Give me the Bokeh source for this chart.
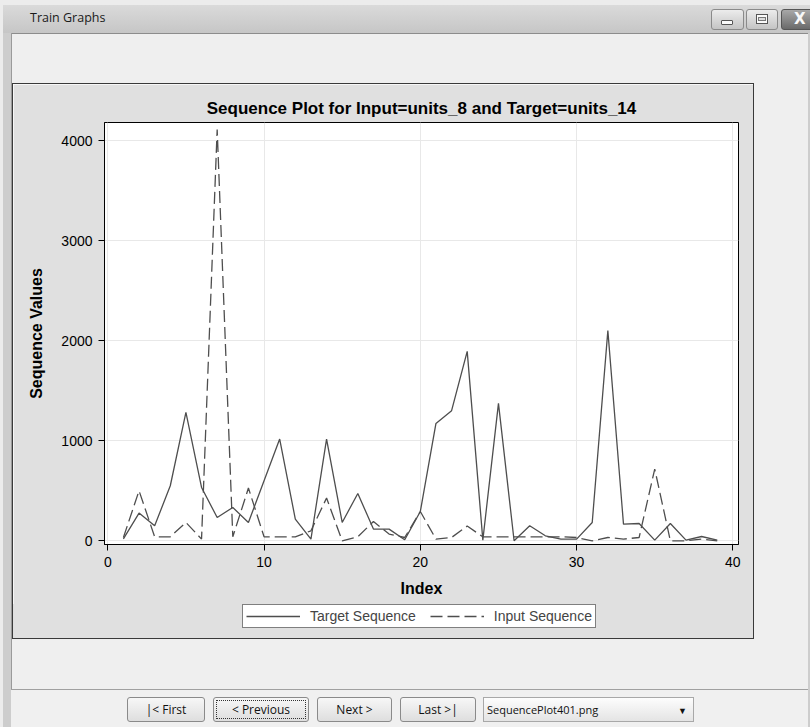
from bokeh.plotting import figure
from bokeh.models import Range1d, FixedTicker, Legend, LegendItem, Div
from bokeh.layouts import column, row
from bokeh.embed import file_html
from bokeh.resources import INLINE

# ---- data ----
index = list(range(1, 40))
target_seq = [20, 277, 150, 550, 1283, 533, 233, 333, 183, 600,
              1017, 217, 17, 1017, 183, 473, 117, 117, 10, 293,
              1173, 1300, 1893, 7, 1373, 0, 150, 50, 17, 17,
              183, 2100, 167, 173, 7, 173, 7, 43, 7]
input_seq = [33, 500, 40, 40, 183, 17, 4110, 40, 527, 40,
             40, 40, 100, 427, 0, 40, 193, 67, 33, 293,
             17, 33, 147, 40, 40, 40, 40, 40, 40, 33,
             0, 33, 17, 33, 717, 0, 0, 17, 0]
x_ticks = [0, 10, 20, 30, 40]
y_ticks = [0, 1000, 2000, 3000, 4000]
chart_title = "Sequence Plot for Input=units_8 and Target=units_14"
series_names = ["Target Sequence", "Input Sequence"]
window_title = "Train Graphs"
button_labels = ["|< First", "< Previous", "Next >", "Last >|"]
dropdown_label = "SequencePlot401.png"

FONT = "Liberation Sans"
PANEL = "#e0e0e0"
WIN_BG = "#efefef"
LINE_COL = "#4e4e4e"
DASH = "12 5"

# ---- main chart ----
p = figure(width=740, height=520,
           x_range=Range1d(-0.21, 40.36), y_range=Range1d(-37, 4180),
           output_backend="svg", toolbar_location=None,
           min_border_left=91, min_border_right=15,
           min_border_top=38, min_border_bottom=60,
           border_fill_color=PANEL, background_fill_color="white",
           outline_line_color="black", outline_line_width=1)

p.title.text = chart_title
p.title.align = "center"
p.title.text_font = FONT
p.title.text_font_size = "17px"
p.title.text_font_style = "bold"
p.title.text_color = "black"

for ax in (p.xaxis[0], p.yaxis[0]):
    ax.major_label_text_font = FONT
    ax.major_label_text_font_size = "14px"
    ax.major_label_text_color = "black"
    ax.axis_label_text_font = FONT
    ax.axis_label_text_font_size = "16px"
    ax.axis_label_text_font_style = "bold"
    ax.axis_label_text_color = "black"
    ax.major_tick_out = 6
    ax.major_tick_in = 0
    ax.minor_tick_out = 0
    ax.minor_tick_in = 0
    ax.axis_line_color = "black"
    ax.major_tick_line_color = "black"

p.xaxis[0].ticker = FixedTicker(ticks=x_ticks)
p.yaxis[0].ticker = FixedTicker(ticks=y_ticks)
p.xaxis[0].axis_label = "Index"
p.yaxis[0].axis_label = "Sequence Values"
p.xaxis[0].major_label_standoff = 6
p.xaxis[0].axis_label_standoff = 10
p.yaxis[0].major_label_standoff = 6
p.yaxis[0].axis_label_standoff = 13

p.xgrid.ticker = FixedTicker(ticks=x_ticks)
p.ygrid.ticker = FixedTicker(ticks=y_ticks)
p.xgrid.grid_line_color = "#e8e8e8"
p.ygrid.grid_line_color = "#e8e8e8"

p.line(index, target_seq, line_color=LINE_COL, line_width=1.3)
p.line(index, input_seq, line_color=LINE_COL, line_width=1.3, line_dash=DASH)

# ---- legend strip (same series; its ranges keep the lines out of view) ----
pl = figure(width=740, height=34, x_range=Range1d(-20, -19), y_range=Range1d(-20, -19),
            output_backend="svg", toolbar_location=None,
            x_axis_type=None, y_axis_type=None,
            min_border_left=91, min_border_right=15,
            min_border_top=0, min_border_bottom=0,
            border_fill_color=None, background_fill_color=None,
            outline_line_color=None,
            styles={"background-color": PANEL})
pl.xgrid.visible = False
pl.ygrid.visible = False
lt = pl.line(index, target_seq, line_color=LINE_COL, line_width=1.3)
li = pl.line(index, input_seq, line_color=LINE_COL, line_width=1.3, line_dash=DASH)
legend = Legend(items=[LegendItem(label=series_names[0], renderers=[lt]),
                       LegendItem(label=series_names[1], renderers=[li])],
                orientation="horizontal", location=(138, 10),
                border_line_color="black", border_line_width=1,
                background_fill_color="white", background_fill_alpha=1,
                label_text_font=FONT, label_text_font_size="14px",
                glyph_width=54, glyph_height=14, label_height=14,
                label_standoff=10, spacing=14, padding=3, margin=0)
pl.add_layout(legend)

# ---- window chrome (HTML) ----
def box(l, t, w, h, style):
    return (f'<div style="position:absolute;left:{l}px;top:{t}px;width:{w}px;'
            f'height:{h}px;{style}"></div>')

UI_FONT = "font-family:'Open Sans',sans-serif;"
FRAME = "#cdcdcd"
OUTER = "#ececec"

# top strip: y 0..83
top = [f'<div style="position:relative;width:810px;height:84px;overflow:hidden;background:{WIN_BG};{UI_FONT}">']
top.append(box(0, 0, 810, 5, f"background:{OUTER};"))
top.append(box(0, 5, 810, 28, "background:linear-gradient(#dadada,#c6c6c6);"))
top.append(box(0, 5, 3, 79, f"background:{OUTER};"))
top.append(box(3, 33, 8, 51, f"background:{FRAME};"))
top.append(box(11, 33, 799, 1, "background:#8c8c8c;"))
top.append(box(11, 33, 1, 51, "background:#9a9a9a;"))
top.append(box(808, 33, 2, 51, f"background:{FRAME};"))
top.append(box(12, 83, 742, 1, "background:#3a3a3a;"))
top.append(f'<div style="position:absolute;left:30px;top:10px;font-size:12.5px;line-height:16px;color:#1a1a1a;">{window_title}</div>')
ctrl = "box-sizing:border-box;border:1px solid #8a8a8a;border-radius:3px;background:linear-gradient(#ececec,#c4c4c4);"
top.append(box(711, 9, 33, 21, ctrl))
top.append(box(721, 20, 12, 5, "box-sizing:border-box;border:1px solid #555;border-radius:1px;background:#fafafa;"))
top.append(box(746, 9, 32, 21, ctrl))
top.append(box(756, 14, 12, 10, "box-sizing:border-box;border:1px solid #555;background:#fafafa;"))
top.append(box(758, 17, 8, 4, "box-sizing:border-box;border:1px solid #777;background:#ddd;"))
top.append(box(781, 9, 36, 21, "box-sizing:border-box;border:1px solid #555;border-radius:3px;background:linear-gradient(#a8a8a8,#6a6a6a);"))
top.append(f'<div style="position:absolute;left:794px;top:9px;font-size:15px;font-weight:bold;line-height:21px;color:#f8f8f8;font-family:\'DejaVu Sans\',sans-serif;">X</div>')
top.append('</div>')

# left strip: x 0..12
left = ('<div style="position:relative;width:13px;height:554px;overflow:hidden;">'
        + box(0, 0, 3, 554, f"background:{OUTER};")
        + box(3, 0, 8, 554, f"background:{FRAME};")
        + box(11, 0, 1, 554, "background:#9a9a9a;")
        + box(12, 0, 1, 554, "background:#3a3a3a;") + '</div>')

# right strip: x 753..809
right = (f'<div style="position:relative;width:57px;height:554px;overflow:hidden;background:{WIN_BG};">'
         + box(0, 0, 1, 554, "background:#3a3a3a;")
         + box(55, 0, 2, 554, f"background:{FRAME};") + '</div>')

# bottom strip: y 638..726
bot = [f'<div style="position:relative;width:810px;height:89px;overflow:hidden;background:{WIN_BG};{UI_FONT}">']
bot.append(box(0, 0, 3, 89, f"background:{OUTER};"))
bot.append(box(3, 0, 8, 89, f"background:{FRAME};"))
bot.append(box(11, 0, 1, 51, "background:#9a9a9a;"))
bot.append(box(12, 0, 742, 1, "background:#3a3a3a;"))
bot.append(box(11, 51, 799, 1, "background:#a0a0a0;"))
bot.append(box(11, 52, 799, 37, "background:#f0f0f0;"))
bot.append(box(808, 0, 2, 89, f"background:{FRAME};"))
btn_pos = [(127, 78), (213, 96), (317, 75), (400, 76)]
btn_style = ("box-sizing:border-box;border:1px solid #8a8a8a;border-radius:3px;"
             "background:linear-gradient(#f7f7f7,#dedede);")
for (bx, bw), lab in zip(btn_pos, button_labels):
    lab_html = lab.replace("<", "&lt;").replace(">", "&gt;")
    bot.append(box(bx, 59, bw, 25, btn_style))
    bot.append(f'<div style="position:absolute;left:{bx}px;top:59px;width:{bw}px;height:25px;'
               f'text-align:center;font-size:12px;line-height:25px;color:#111;">{lab_html}</div>')
bot.append(box(216, 62, 90, 19, "box-sizing:border-box;border:1px dotted #333;"))
bot.append(box(483, 59, 211, 25, "box-sizing:border-box;border:1px solid #a8a8a8;"
               "background:linear-gradient(#fdfdfd,#e4e4e4);"))
bot.append(f'<div style="position:absolute;left:487px;top:59px;height:25px;font-size:11px;'
           f'line-height:25px;color:#111;">{dropdown_label}</div>')
bot.append(f'<div style="position:absolute;left:678px;top:59px;height:25px;font-size:9px;'
           f'line-height:27px;color:#111;">&#9660;</div>')
bot.append('</div>')

def mkdiv(html, w, h):
    return Div(text=html, width=w, height=h, margin=(0, 0, 0, 0))

layout = column(mkdiv("".join(top), 810, 84),
                row(mkdiv(left, 13, 554), column(p, pl, spacing=0),
                    mkdiv(right, 57, 554), spacing=0),
                mkdiv("".join(bot), 810, 89),
                spacing=0)

open("out.html", "w").write(file_html(layout, INLINE))
